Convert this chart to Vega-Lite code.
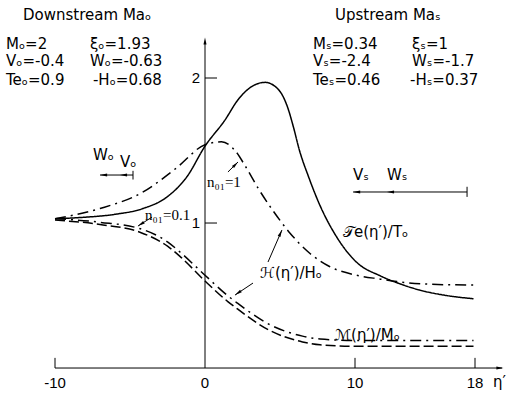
{
  "$schema": "https://vega.github.io/schema/vega-lite/v6.json",
  "width": 507,
  "height": 395,
  "padding": 0,
  "autosize": {"type": "fit", "contains": "padding"},
  "background": "white",
  "view": {"stroke": null},
  "config": {"text": {"color": "black"}},
  "datasets": {
    "curves": [
      {"series": "Te", "x": -10, "y": 1.03}, {"series": "Te", "x": -8, "y": 1.04}, {"series": "Te", "x": -6, "y": 1.06},
      {"series": "Te", "x": -4.13, "y": 1.1}, {"series": "Te", "x": -2.53, "y": 1.18}, {"series": "Te", "x": -1.2, "y": 1.32},
      {"series": "Te", "x": 0, "y": 1.53}, {"series": "Te", "x": 1.33, "y": 1.71}, {"series": "Te", "x": 2.2, "y": 1.85},
      {"series": "Te", "x": 3.1, "y": 1.94}, {"series": "Te", "x": 4.0, "y": 1.97}, {"series": "Te", "x": 4.9, "y": 1.92},
      {"series": "Te", "x": 5.5, "y": 1.8}, {"series": "Te", "x": 5.9, "y": 1.66}, {"series": "Te", "x": 6.3, "y": 1.5},
      {"series": "Te", "x": 6.9, "y": 1.32}, {"series": "Te", "x": 7.67, "y": 1.12}, {"series": "Te", "x": 8.8, "y": 0.9},
      {"series": "Te", "x": 10.1, "y": 0.73}, {"series": "Te", "x": 11.7, "y": 0.635}, {"series": "Te", "x": 12.8, "y": 0.588},
      {"series": "Te", "x": 14.3, "y": 0.538}, {"series": "Te", "x": 16.1, "y": 0.5}, {"series": "Te", "x": 17.9, "y": 0.478},
      {"series": "H1", "x": -10, "y": 1.03}, {"series": "H1", "x": -7, "y": 1.1}, {"series": "H1", "x": -4.2, "y": 1.21},
      {"series": "H1", "x": -1.9, "y": 1.38}, {"series": "H1", "x": 0, "y": 1.54}, {"series": "H1", "x": 1.1, "y": 1.56},
      {"series": "H1", "x": 2.0, "y": 1.5}, {"series": "H1", "x": 2.7, "y": 1.39}, {"series": "H1", "x": 3.6, "y": 1.23},
      {"series": "H1", "x": 4.5, "y": 1.09}, {"series": "H1", "x": 5.67, "y": 0.93}, {"series": "H1", "x": 7.0, "y": 0.79},
      {"series": "H1", "x": 8.3, "y": 0.7}, {"series": "H1", "x": 10.1, "y": 0.64}, {"series": "H1", "x": 11.7, "y": 0.613},
      {"series": "H1", "x": 12.8, "y": 0.596}, {"series": "H1", "x": 15, "y": 0.578}, {"series": "H1", "x": 17.9, "y": 0.572},
      {"series": "H01", "x": -10, "y": 1.03}, {"series": "H01", "x": -7, "y": 1.005}, {"series": "H01", "x": -4.3, "y": 0.96},
      {"series": "H01", "x": -2.5, "y": 0.87}, {"series": "H01", "x": -1.67, "y": 0.8}, {"series": "H01", "x": 0, "y": 0.64},
      {"series": "H01", "x": 1.5, "y": 0.5}, {"series": "H01", "x": 2.13, "y": 0.45}, {"series": "H01", "x": 4.3, "y": 0.3},
      {"series": "H01", "x": 6.5, "y": 0.22}, {"series": "H01", "x": 7.67, "y": 0.2}, {"series": "H01", "x": 10, "y": 0.19},
      {"series": "H01", "x": 13, "y": 0.19}, {"series": "H01", "x": 17.9, "y": 0.19},
      {"series": "M", "x": -10, "y": 1.02}, {"series": "M", "x": -7, "y": 0.99}, {"series": "M", "x": -4.3, "y": 0.935},
      {"series": "M", "x": -2.5, "y": 0.84}, {"series": "M", "x": -1.67, "y": 0.77}, {"series": "M", "x": 0, "y": 0.6},
      {"series": "M", "x": 1.5, "y": 0.46}, {"series": "M", "x": 2.13, "y": 0.41}, {"series": "M", "x": 4.3, "y": 0.26},
      {"series": "M", "x": 6.5, "y": 0.18}, {"series": "M", "x": 7.67, "y": 0.16}, {"series": "M", "x": 10, "y": 0.15},
      {"series": "M", "x": 13, "y": 0.15}, {"series": "M", "x": 17.9, "y": 0.15}
    ],
    "texts": [
      {"kind": "big", "label": "Downstream Maₒ", "x": -12.13, "y": 2.434},
      {"kind": "big", "label": "Mₒ=2", "x": -13.27, "y": 2.238},
      {"kind": "big", "label": "ξₒ=1.93", "x": -7.67, "y": 2.238},
      {"kind": "big", "label": "Vₒ=-0.4", "x": -13.27, "y": 2.114},
      {"kind": "big", "label": "Wₒ=-0.63", "x": -7.67, "y": 2.114},
      {"kind": "big", "label": "Teₒ=0.9", "x": -13.27, "y": 1.986},
      {"kind": "big", "label": "-Hₒ=0.68", "x": -7.47, "y": 1.986},
      {"kind": "big", "label": "Upstream Maₛ", "x": 8.67, "y": 2.434},
      {"kind": "big", "label": "Mₛ=0.34", "x": 7.2, "y": 2.238},
      {"kind": "big", "label": "ξₛ=1", "x": 13.8, "y": 2.238},
      {"kind": "big", "label": "Vₛ=-2.4", "x": 7.2, "y": 2.114},
      {"kind": "big", "label": "Wₛ=-1.7", "x": 13.8, "y": 2.114},
      {"kind": "big", "label": "Teₛ=0.46", "x": 7.2, "y": 1.986},
      {"kind": "big", "label": "-Hₛ=0.37", "x": 13.67, "y": 1.986},
      {"kind": "big", "label": "Wₒ", "x": -7.47, "y": 1.47},
      {"kind": "big", "label": "Vₒ", "x": -5.67, "y": 1.42},
      {"kind": "big", "label": "Vₛ", "x": 9.87, "y": 1.33},
      {"kind": "big", "label": "Wₛ", "x": 12.13, "y": 1.33},
      {"kind": "big", "label": "𝒯e(η′)/Tₒ", "x": 9.2, "y": 0.938},
      {"kind": "big", "label": "ℋ(η′)/Hₒ", "x": 3.67, "y": 0.655},
      {"kind": "big", "label": "ℳ(η′)/Mₒ", "x": 8.67, "y": 0.228},
      {"kind": "big", "label": "η′", "x": 19.2, "y": -0.095},
      {"kind": "serif", "label": "n₀₁=1", "x": 0.13, "y": 1.283},
      {"kind": "serif", "label": "n₀₁=0.1", "x": -4, "y": 1.055},
      {"kind": "xt", "label": "-10", "x": -10, "y": -0.103},
      {"kind": "xt", "label": "0", "x": 0, "y": -0.103},
      {"kind": "xt", "label": "10", "x": 10, "y": -0.103},
      {"kind": "xt", "label": "18", "x": 18, "y": -0.103},
      {"kind": "yt", "label": "1", "x": -0.33, "y": 1},
      {"kind": "yt", "label": "2", "x": -0.33, "y": 2}
    ],
    "segs": [
      {"x": -10, "y": 0, "x2": 19.8, "y2": 0},
      {"x": 0, "y": 0, "x2": 0, "y2": 2.24},
      {"x": -10, "y": 0, "x2": -10, "y2": 0.07},
      {"x": 10, "y": 0, "x2": 10, "y2": 0.07},
      {"x": 18, "y": 0, "x2": 18, "y2": 0.07},
      {"x": 0, "y": 1, "x2": 0.8, "y2": 1},
      {"x": 0, "y": 2, "x2": 0.8, "y2": 2},
      {"x": -7, "y": 1.331, "x2": -4.8, "y2": 1.331},
      {"x": -4.8, "y": 1.3, "x2": -4.8, "y2": 1.36},
      {"x": 9.87, "y": 1.214, "x2": 17.47, "y2": 1.214},
      {"x": 17.47, "y": 1.18, "x2": 17.47, "y2": 1.25},
      {"x": 1.53, "y": 1.352, "x2": 2.2, "y2": 1.421},
      {"x": -3.53, "y": 1.041, "x2": -4.47, "y2": 0.979},
      {"x": 4.2, "y": 0.731, "x2": 5.13, "y2": 0.952},
      {"x": 3.2, "y": 0.586, "x2": 2.0, "y2": 0.503}
    ],
    "heads": [
      {"x": 19.9, "y": 0, "ang": 90},
      {"x": 0, "y": 2.28, "ang": 0},
      {"x": -7, "y": 1.331, "ang": 270},
      {"x": -5.67, "y": 1.331, "ang": 270},
      {"x": 9.87, "y": 1.214, "ang": 270},
      {"x": 12.13, "y": 1.214, "ang": 270},
      {"x": 2.2, "y": 1.421, "ang": 45},
      {"x": -4.47, "y": 0.979, "ang": 237},
      {"x": 5.13, "y": 0.952, "ang": 24},
      {"x": 2.0, "y": 0.503, "ang": 236}
    ]
  },
  "layer": [
    {
      "data": {"name": "curves"},
      "mark": {"type": "line", "color": "black", "strokeWidth": 1.5, "interpolate": "monotone"},
      "encoding": {
        "x": {"field": "x", "type": "quantitative", "scale": {"domain": [-13.667, 20.133], "nice": false, "zero": false}, "axis": null},
        "y": {"field": "y", "type": "quantitative", "scale": {"domain": [-0.186, 2.538], "nice": false, "zero": false}, "axis": null},
        "strokeDash": {"field": "series", "type": "nominal", "legend": null,
          "scale": {"domain": ["Te", "H1", "H01", "M"], "range": [[1, 0], [11, 5, 2, 5], [11, 5, 2, 5], [10, 4]]}}
      }
    },
    {
      "data": {"name": "segs"},
      "mark": {"type": "rule", "color": "black", "strokeWidth": 1},
      "encoding": {
        "x": {"field": "x", "type": "quantitative", "scale": {"domain": [-13.667, 20.133], "nice": false, "zero": false}, "axis": null},
        "y": {"field": "y", "type": "quantitative", "scale": {"domain": [-0.186, 2.538], "nice": false, "zero": false}, "axis": null},
        "x2": {"field": "x2"},
        "y2": {"field": "y2"}
      }
    },
    {
      "data": {"name": "heads"},
      "mark": {"type": "point", "filled": true, "color": "black", "opacity": 1, "size": 90, "shape": "M0,0L0.32,1.5L-0.32,1.5Z"},
      "encoding": {
        "x": {"field": "x", "type": "quantitative", "scale": {"domain": [-13.667, 20.133], "nice": false, "zero": false}, "axis": null},
        "y": {"field": "y", "type": "quantitative", "scale": {"domain": [-0.186, 2.538], "nice": false, "zero": false}, "axis": null},
        "angle": {"field": "ang", "type": "quantitative", "scale": null}
      }
    },
    {
      "data": {"name": "texts"},
      "transform": [{"filter": "datum.kind == 'big'"}],
      "mark": {"type": "text", "font": "DejaVu Sans", "fontSize": 15, "align": "left", "baseline": "middle"},
      "encoding": {
        "x": {"field": "x", "type": "quantitative", "scale": {"domain": [-13.667, 20.133], "nice": false, "zero": false}, "axis": null},
        "y": {"field": "y", "type": "quantitative", "scale": {"domain": [-0.186, 2.538], "nice": false, "zero": false}, "axis": null},
        "text": {"field": "label"}
      }
    },
    {
      "data": {"name": "texts"},
      "transform": [{"filter": "datum.kind == 'serif'"}],
      "mark": {"type": "text", "font": "Liberation Serif", "fontSize": 15, "align": "left", "baseline": "middle"},
      "encoding": {
        "x": {"field": "x", "type": "quantitative", "scale": {"domain": [-13.667, 20.133], "nice": false, "zero": false}, "axis": null},
        "y": {"field": "y", "type": "quantitative", "scale": {"domain": [-0.186, 2.538], "nice": false, "zero": false}, "axis": null},
        "text": {"field": "label"}
      }
    },
    {
      "data": {"name": "texts"},
      "transform": [{"filter": "datum.kind == 'xt'"}],
      "mark": {"type": "text", "font": "Liberation Sans", "fontSize": 15, "align": "center", "baseline": "middle"},
      "encoding": {
        "x": {"field": "x", "type": "quantitative", "scale": {"domain": [-13.667, 20.133], "nice": false, "zero": false}, "axis": null},
        "y": {"field": "y", "type": "quantitative", "scale": {"domain": [-0.186, 2.538], "nice": false, "zero": false}, "axis": null},
        "text": {"field": "label"}
      }
    },
    {
      "data": {"name": "texts"},
      "transform": [{"filter": "datum.kind == 'yt'"}],
      "mark": {"type": "text", "font": "Liberation Sans", "fontSize": 15, "align": "right", "baseline": "middle"},
      "encoding": {
        "x": {"field": "x", "type": "quantitative", "scale": {"domain": [-13.667, 20.133], "nice": false, "zero": false}, "axis": null},
        "y": {"field": "y", "type": "quantitative", "scale": {"domain": [-0.186, 2.538], "nice": false, "zero": false}, "axis": null},
        "text": {"field": "label"}
      }
    }
  ]
}
